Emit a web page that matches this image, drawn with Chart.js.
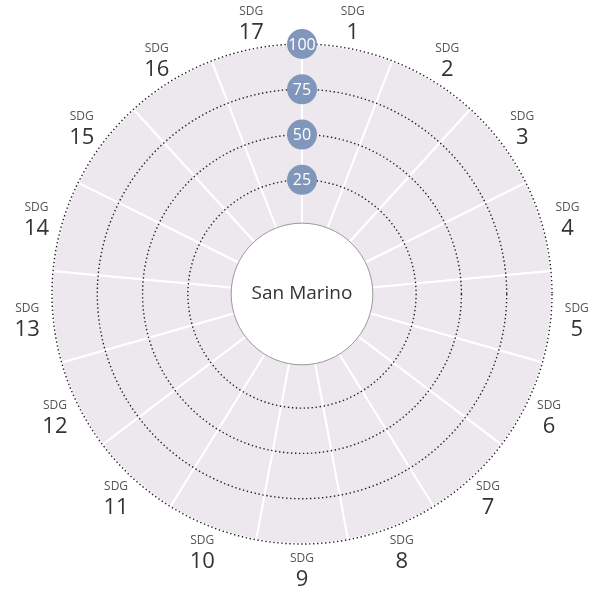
<!DOCTYPE html>
<html>
<head>
<meta charset="utf-8">
<script src="https://cdn.jsdelivr.net/npm/chart.js@4"></script>
<style>
  html, body { margin: 0; padding: 0; background: #fff; }
  #wrap { width: 600px; height: 592px; }
</style>
</head>
<body>
<div id="wrap"><canvas id="sdgChart"></canvas></div>
<script>
const country = 'San Marino';
const goals = ['1', '2', '3', '4', '5', '6', '7', '8', '9', '10', '11', '12', '13', '14', '15', '16', '17'];
const scores = [100, 100, 100, 100, 100, 100, 100, 100, 100, 100, 100, 100, 100, 100, 100, 100, 100];
const tickValues = [25, 50, 75, 100];
const tickLabels = ['25', '50', '75', '100'];

const FONT = '"Open Sans", "Noto Sans", sans-serif';

// labels, tick bubbles and the centre hole are drawn on top of the chart
const overlay = {
    id: 'overlay',
    afterDatasetsDraw(chart) {
        const r = chart.scales.r;
        const ctx = chart.ctx;
        const hole = r.getDistanceFromCenterForValue(0) + 2;
        ctx.save();
        ctx.beginPath();
        ctx.arc(r.xCenter, r.yCenter, hole, 0, Math.PI * 2);
        ctx.fillStyle = '#fff';
        ctx.fill();
        ctx.lineWidth = 1;
        ctx.strokeStyle = '#9a9a9a';
        ctx.stroke();
        ctx.restore();
    },
    afterDraw(chart) {
        const r = chart.scales.r;
        const ctx = chart.ctx;
        ctx.save();
        ctx.textAlign = 'center';
        ctx.textBaseline = 'middle';

        // centre name
        ctx.fillStyle = '#333';
        ctx.font = '19px ' + FONT;
        ctx.fillText(country, r.xCenter, r.yCenter);

        // tick bubbles on the vertical axis
        tickValues.forEach((v, i) => {
            const y = r.yCenter - r.getDistanceFromCenterForValue(v);
            ctx.beginPath();
            ctx.arc(r.xCenter, y, 15, 0, Math.PI * 2);
            ctx.fillStyle = '#8096bb';
            ctx.fill();
            ctx.fillStyle = '#fff';
            ctx.font = '16px ' + FONT;
            ctx.fillText(tickLabels[i], r.xCenter, y + 1);
        });

        // goal labels at the middle of each sector
        const half = Math.PI / goals.length;
        const dist = r.drawingArea + 26;
        goals.forEach((g, i) => {
            const p = r.getPointPosition(i, dist, half);
            ctx.fillStyle = '#555';
            ctx.font = '12px ' + FONT;
            ctx.fillText('SDG', p.x, p.y - 11);
            ctx.fillStyle = '#333';
            ctx.font = '22px ' + FONT;
            ctx.fillText(g, p.x, p.y + 10);
        });
        ctx.restore();
    }
};

const sdgChart = new Chart(document.getElementById('sdgChart'), {
    type: 'polarArea',
    data: {
        labels: goals,
        datasets: [{
            data: scores,
            backgroundColor: '#ece8ed',
            borderColor: '#fff',
            borderWidth: 2
        }]
    },
    options: {
        responsive: true,
        maintainAspectRatio: false,
        animation: false,
        layout: {
            padding: { left: 52, right: 48, top: 44, bottom: 48 }
        },
        plugins: {
            legend: { display: false },
            tooltip: { enabled: false }
        },
        scales: {
            r: {
                min: -38,
                max: 100,
                startAngle: 0,
                afterBuildTicks: (scale) => {
                    scale.ticks = tickValues.map(v => ({ value: v }));
                },
                ticks: { display: false },
                pointLabels: { display: false },
                angleLines: { display: false },
                grid: { circular: true, color: '#222', lineWidth: 1.4, z: 1 },
                border: { dash: [1.4, 2.6] }
            }
        }
    },
    plugins: [overlay]
});
</script>
</body>
</html>
